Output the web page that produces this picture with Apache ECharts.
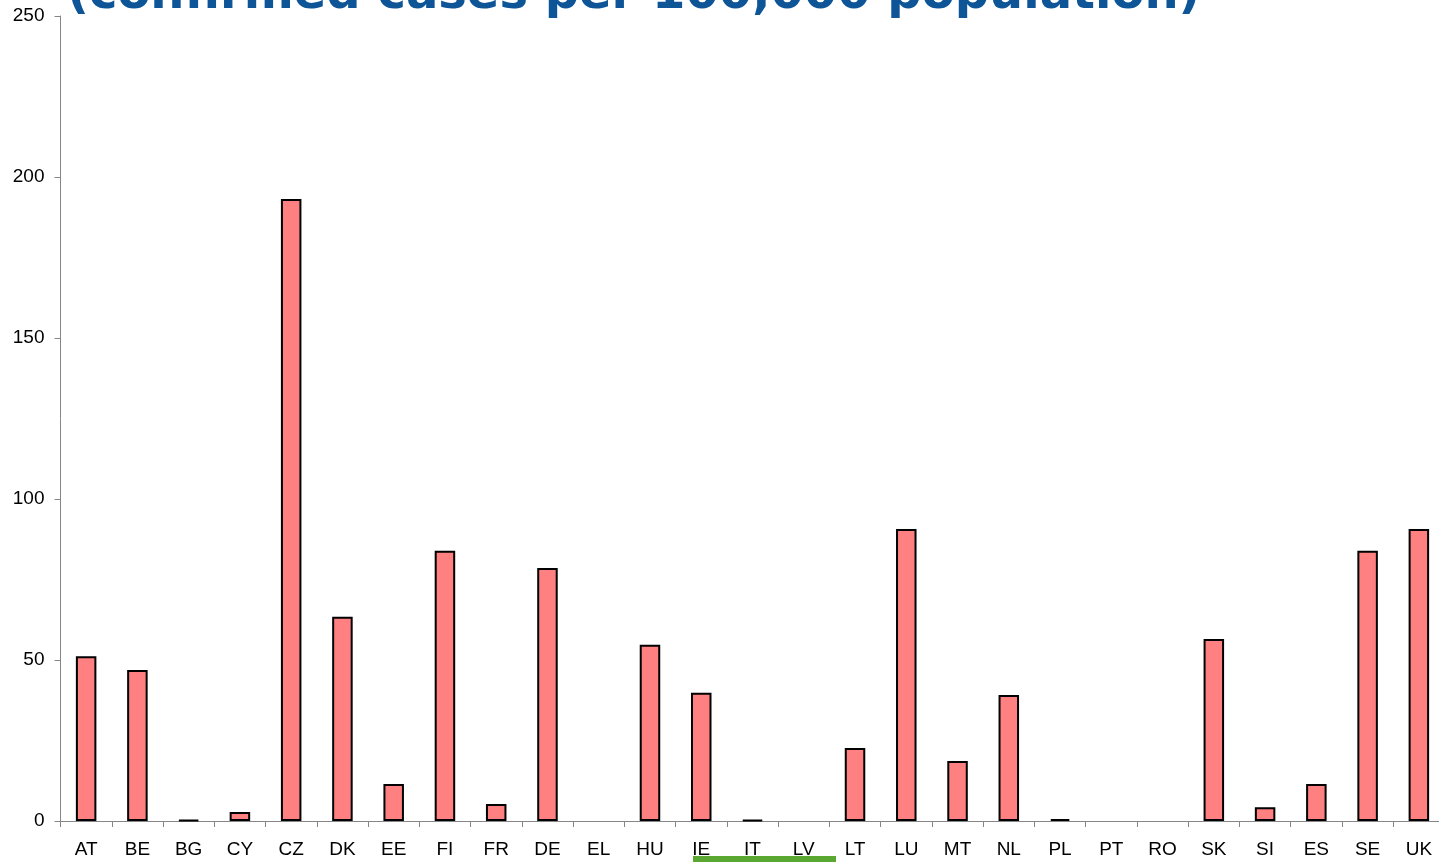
<!DOCTYPE html>
<html>
<head>
<meta charset="utf-8">
<script src="https://cdn.jsdelivr.net/npm/echarts@6/dist/echarts.min.js"></script>
<style>
  html, body { margin: 0; padding: 0; background: #ffffff; }
  #chart { width: 1439px; height: 862px; }
</style>
</head>
<body>
<div id="chart"></div>
<script>
const titleText = "(confirmed cases per 100,000 population)";
const countries = ["AT","BE","BG","CY","CZ","DK","EE","FI","FR","DE","EL","HU","IE","IT","LV","LT","LU","MT","NL","PL","PT","RO","SK","SI","ES","SE","UK"];
const casesPer100k = [51.2,46.9,0.3,2.8,193.2,63.4,11.5,83.9,5.3,78.6,0,54.7,39.8,0.3,0,22.7,90.7,18.6,39.1,0.6,0,0,56.5,4.3,11.5,83.9,90.7];
const yTicks = { min: 0, max: 250, interval: 50 };

const barData = casesPer100k.map(v => v === 0
  ? { value: v, itemStyle: { borderWidth: 0, opacity: 0 } }
  : v);

const chart = echarts.init(document.getElementById('chart'));
chart.setOption({
  animation: false,
  backgroundColor: '#ffffff',
  grid: { left: 60.5, top: 16, width: 1384, bottom: 41, containLabel: false, outerBoundsMode: 'none' },
  xAxis: {
    type: 'category',
    data: countries,
    boundaryGap: true,
    axisLine: { lineStyle: { color: '#868686', width: 1 } },
    axisTick: { show: true, alignWithLabel: false, length: 6, lineStyle: { color: '#868686' } },
    axisLabel: { color: '#000000', fontFamily: 'Liberation Sans, Arial, sans-serif', fontSize: 19, margin: 19, interval: 0 },
    splitLine: { show: false }
  },
  yAxis: {
    type: 'value',
    min: yTicks.min, max: yTicks.max, interval: yTicks.interval,
    axisLine: { show: true, lineStyle: { color: '#868686', width: 1 } },
    axisTick: { show: true, length: 6, inside: false, lineStyle: { color: '#868686' } },
    axisLabel: { color: '#000000', fontFamily: 'Liberation Sans, Arial, sans-serif', fontSize: 19, margin: 16 },
    splitLine: { show: false }
  },
  series: [{
    type: 'bar',
    data: barData,
    barWidth: '40%',
    itemStyle: { color: '#ff8080', borderColor: '#000000', borderWidth: 2 }
  }],
  graphic: [
    {
      type: 'text',
      x: 67,
      y: 20,
      style: {
        text: titleText,
        font: 'bold 48px "DejaVu Sans", Verdana, sans-serif',
        fill: '#0d5597',
        textVerticalAlign: 'bottom'
      }
    },
    {
      type: 'rect',
      shape: { x: 693, y: 856, width: 143, height: 8 },
      style: { fill: '#5aa832' }
    }
  ]
});
</script>
</body>
</html>
